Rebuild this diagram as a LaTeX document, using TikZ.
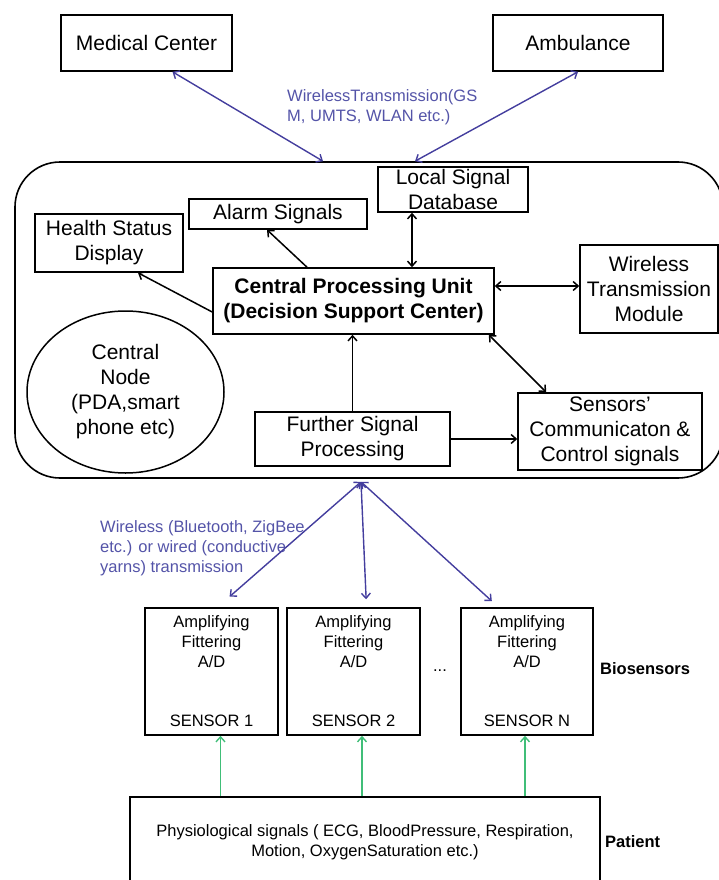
\documentclass[tikz,border=0pt]{standalone}
\usepackage{fontspec}
\setmainfont{Liberation Sans}
\usetikzlibrary{positioning,arrows.meta,shapes.geometric}
\definecolor{linkblue}{RGB}{68,62,158}
\definecolor{tagblue}{RGB}{84,84,168}
\definecolor{sensegreen}{RGB}{64,190,120}

\begin{document}
\begin{tikzpicture}[
        x=1pt, y=-1pt,
        >={Straight Barb[length=5pt,width=9pt]},
        font=\fontsize{21}{25}\selectfont,
        box/.style={draw, align=center, inner sep=0pt, line width=1.6pt},
        zone/.style={draw, rounded corners=45pt, line width=1.6pt, minimum width=708pt, minimum height=316pt},
        sensor/.style={box, minimum width=133pt, minimum height=127pt, font=\fontsize{16.5}{20}\selectfont},
        zonetag/.style={align=left, anchor=west, text=tagblue, inner sep=0pt, font=\fontsize{16.5}{20}\selectfont},
        sidetag/.style={anchor=west, inner sep=0pt, font=\fontsize{16.5}{20}\selectfont\bfseries},
        wire/.style={line width=1.5pt},
        radio/.style={linkblue, line width=1.4pt},
        probe/.style={sensegreen, line width=1.4pt}
      ]
      \useasboundingbox (0,0) rectangle (719,880);

      % the wearable central node
      \node (Z) at (369, 320) [zone] {};

      \node (MC) at (146.5, 43) [box, minimum width=171pt, minimum height=56pt] {Medical Center};
      \node (AM) at (578, 43) [box, minimum width=170pt, minimum height=56pt] {Ambulance};
      \node (GSM) at (287, 107) [zonetag] {WirelessTransmission(GS\\M, UMTS, WLAN etc.)};

      \node (HSD) at (109, 243) [box, minimum width=148pt, minimum height=58pt] {Health Status\\Display};
      \node (AS) at (278, 214) [box, minimum width=178pt, minimum height=30pt] {Alarm Signals};
      \node (LSD) at (453, 189.5) [box, minimum width=150pt, minimum height=45pt] {Local Signal\\Database};
      \node (CPU) at (353.5, 301) [box, minimum width=281pt, minimum height=66pt, font=\fontsize{21}{25}\selectfont\bfseries] {Central Processing Unit\\(Decision Support Center)};
      \node (WTM) at (649, 289) [box, minimum width=138pt, minimum height=88pt] {Wireless\\Transmission\\Module};
      \node (PDA) at (125.5, 392) [draw, ellipse, line width=1.5pt, inner sep=0pt, minimum width=197pt, minimum height=162pt, align=center] {Central\\Node\\(PDA,smart\\phone etc)};
      \node (FSP) at (352.5, 439) [box, minimum width=195pt, minimum height=54pt] {Further Signal\\Processing};
      \node (SCC) at (610, 431.5) [box, minimum width=184pt, minimum height=77pt] {Sensors'\\Communicaton \&\\Control signals};

      % biosensors
      \node (BT) at (100, 548) [zonetag] {Wireless (Bluetooth, ZigBee\\etc.) or wired (conductive\\yarns) transmission};
      \node (S1) at (211.5, 671.5) [sensor] {Amplifying\\Fittering\\A/D\\[39pt]SENSOR 1};
      \node (S2) at (353.5, 671.5) [sensor] {Amplifying\\Fittering\\A/D\\[39pt]SENSOR 2};
      \node (SN) at (527, 671.5) [sensor, minimum width=132pt] {Amplifying\\Fittering\\A/D\\[39pt]SENSOR N};
      \node (DOTS) at (440, 671) [font=\fontsize{16.5}{20}\selectfont] {...};
      \node (BIO) at (600, 669) [sidetag] {Biosensors};

      \node (PS) at (365, 842) [box, minimum width=470pt, minimum height=90pt, font=\fontsize{16.5}{20}\selectfont] {Physiological signals ( ECG, BloodPressure, Respiration,\\Motion, OxygenSaturation etc.)};
      \node (PAT) at (605, 842) [sidetag] {Patient};

      \path[<->, radio]
        ([xshift=26pt]MC.south) edge ([xshift=-46pt]Z.north)
        (AM.south) edge ([xshift=46pt]Z.north);

      \coordinate (HUB) at ([xshift=-8pt,yshift=-3pt]Z.south);
      \path[<->, radio]
        (HUB) edge[shorten >=16pt] ([xshift=6pt]S1.north)
        (HUB) edge[shorten >=8pt] ([xshift=13pt]S2.north)
        (HUB) edge[shorten >=9pt] ([xshift=-28.5pt]SN.north);

      \path[->, wire]
        ([yshift=-11pt]CPU.west) edge ([xshift=29pt]HSD.south)
        ([xshift=-46.5pt]CPU.north) edge ([xshift=-11pt]AS.south)
        (FSP.north) edge (FSP.north |- CPU.south)
        (FSP.east) edge (FSP.east -| SCC.west);
      \path[<->, wire]
        ([xshift=-41pt]LSD.south) edge ([xshift=-41pt]LSD.south |- CPU.north)
        ([yshift=15pt]CPU.east) edge ([yshift=15pt]CPU.east -| WTM.west)
        ([xshift=-6pt]CPU.south east) edge ([xshift=29pt]SCC.north west);

      \foreach \s/\dx in {S1/9, S2/8.5, SN/-2}
        \draw[->, probe] ([xshift=\dx pt]\s.south |- PS.north) -- ([xshift=\dx pt]\s.south);
    \end{tikzpicture}
\end{document}
